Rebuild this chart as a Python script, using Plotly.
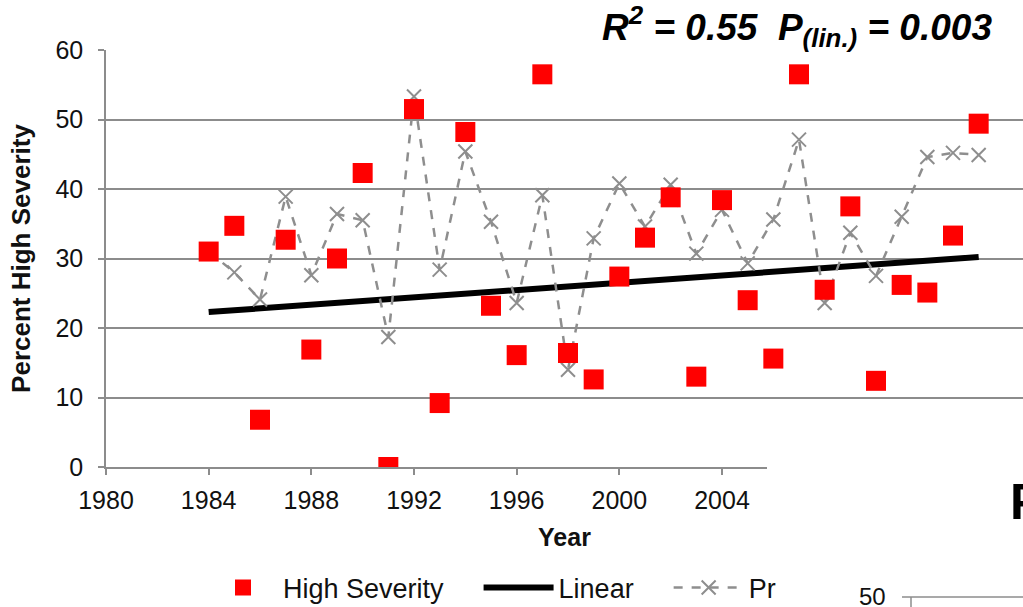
import plotly.graph_objects as go

years = list(range(1984, 2015))
high_severity = [31.0, 34.7, 6.8, 32.7, 16.9, 30.0, 42.3, 0.0, 51.5, 9.2,
                 48.2, 23.2, 16.1, 56.5, 16.4, 12.6, 27.4, 33.0, 38.8, 13.0,
                 38.4, 24.0, 15.6, 56.5, 25.5, 37.5, 12.4, 26.2, 25.1, 33.3,
                 49.4]
pr_values = [31.0, 28.0, 24.1, 38.9, 27.6, 36.4, 35.5, 18.7, 53.3, 28.4,
             45.4, 35.3, 23.6, 39.1, 14.0, 32.9, 40.8, 34.6, 40.6, 30.7,
             37.0, 29.3, 35.6, 47.1, 23.6, 33.7, 27.5, 36.0, 44.6, 45.2,
             44.9]
trend_years = [1984, 2014]
trend_values = [22.3, 30.2]

x_ticks = [1980, 1984, 1988, 1992, 1996, 2000, 2004, 2008, 2012]
y_ticks = [0, 10, 20, 30, 40, 50, 60]

# body margin is removed by post_script, so the figure fills the window
W, H = 1023, 607
L, T = 106, 50
PLOT_BOTTOM = 467
R, B = 0, H - PLOT_BOTTOM
PW, PH = W - L - R, H - T - B


def px(x):
    """screen pixel x -> paper x"""
    return (x - L) / PW


def py(y):
    """screen pixel y -> paper y"""
    return (PLOT_BOTTOM - y) / PH


FONT = "Liberation Sans, Arial, sans-serif"
PAD = "&nbsp;" * 4

fig = go.Figure()
fig.add_trace(go.Scatter(
    x=trend_years, y=trend_values, mode="lines", name="Linear" + PAD,
    line=dict(color="black", width=6), legendrank=2))
fig.add_trace(go.Scatter(
    x=years, y=pr_values, mode="lines+markers", name="Pr",
    line=dict(color="#8e8e8e", width=2.5, dash="dash"),
    marker=dict(symbol="x-thin", size=14, line=dict(color="#8e8e8e", width=2)),
    legendrank=3))
fig.add_trace(go.Scatter(
    x=years, y=high_severity, mode="markers", name="High Severity" + PAD,
    marker=dict(symbol="square", size=20, color="#ff0000"), legendrank=1))

axis_common = dict(
    showline=True, linecolor="#8c8c8c", linewidth=1.5,
    ticks="outside", tickcolor="#8c8c8c", ticklen=6, tickwidth=1.5,
    tickfont=dict(family=FONT, size=25, color="#111111"),
    zeroline=False, automargin=False,
)

fig.update_xaxes(
    range=[1980, 1980 + PW / (616 / 24)], tickvals=x_ticks, showgrid=False,
    title=dict(text="<b>Year</b>", font=dict(family=FONT, size=25, color="#111111"),
               standoff=16),
    ticklabelstandoff=4,
    **axis_common)
fig.update_yaxes(
    range=[0, 60], tickvals=y_ticks, showgrid=True, gridcolor="#8c8c8c", gridwidth=1.5,
    title=dict(text="<b>Percent High Severity</b>",
               font=dict(family=FONT, size=26, color="#111111"), standoff=17),
    ticklabelstandoff=10,
    **axis_common)

shapes = [
    # white box behind the R^2 label (covers top gridline)
    dict(type="rect", xref="paper", yref="paper", x0=px(582), x1=1.0, y0=py(60), y1=py(0),
         fillcolor="white", line=dict(width=0), layer="above"),
    # white box at bottom-right (overlapping slide element)
    dict(type="rect", xref="paper", yref="paper", x0=px(767), x1=1.0, y0=py(620), y1=py(407),
         fillcolor="white", line=dict(width=0), layer="above"),
    # fragment of another chart's axis
    dict(type="line", xref="paper", yref="paper", x0=px(902), x1=1.0, y0=py(597), y1=py(597),
         line=dict(color="#8c8c8c", width=1.5), layer="above"),
    dict(type="line", xref="paper", yref="paper", x0=px(911), x1=px(911), y0=py(597), y1=py(610),
         line=dict(color="#8c8c8c", width=1.5), layer="above"),
]

annotations = [
    dict(xref="paper", yref="paper", x=px(600), y=py(27), xanchor="left", yanchor="middle",
         showarrow=False,
         text="<b><i>R<sup>2</sup> = 0.55  P<sub>(lin.)</sub> = 0.003</i></b>",
         font=dict(family=FONT, size=37, color="black")),
    dict(xref="paper", yref="paper", x=px(1008), y=py(502), xanchor="left", yanchor="middle",
         showarrow=False, text="<b>F</b>", font=dict(family=FONT, size=50, color="black")),
    dict(xref="paper", yref="paper", x=px(888), y=py(596), xanchor="right", yanchor="middle",
         showarrow=False, text="50", font=dict(family=FONT, size=24, color="#111111")),
]

fig.update_layout(
    width=W, height=H,
    margin=dict(l=L, r=R, t=T, b=B, autoexpand=False),
    paper_bgcolor="white", plot_bgcolor="white",
    shapes=shapes, annotations=annotations,
    showlegend=True,
    legend=dict(orientation="h", xref="container", yref="container",
                x=203 / W, xanchor="left", y=(H - 588) / H, yanchor="middle",
                font=dict(family=FONT, size=27, color="#111111"),
                itemwidth=70, bgcolor="rgba(0,0,0,0)", traceorder="normal"),
)

fig.write_html(
    "out.html",
    config={"displayModeBar": False},
    post_script="document.body.style.margin='0';document.body.style.overflow='hidden';",
)
